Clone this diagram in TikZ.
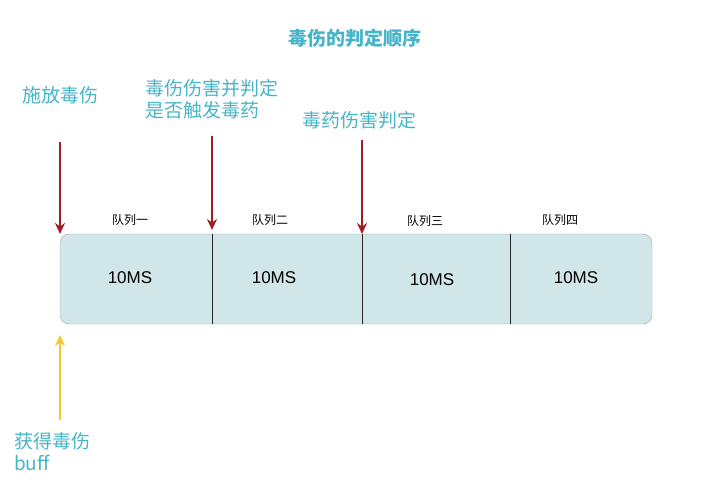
\documentclass[tikz,border=0pt]{standalone}
\usepackage{fontspec}
\setmainfont{Liberation Sans}
\newfontfamily\cjk{Noto Sans CJK SC}
\usetikzlibrary{arrows.meta}
\definecolor{teal1}{RGB}{70,180,200}
\definecolor{barfill}{RGB}{208,230,232}
\definecolor{redar}{RGB}{160,30,35}
\definecolor{yelar}{RGB}{245,200,50}
\begin{document}
\begin{tikzpicture}[x=1pt,y=-1pt,
  lbl/.style={text=teal1,font=\cjk\fontsize{19}{24}\selectfont,anchor=west,align=left,inner sep=0},
  ql/.style={font=\cjk\fontsize{12}{14}\selectfont,inner sep=0},
  ms/.style={font=\fontsize{17}{20}\selectfont,inner sep=0},
  rarr/.style={draw=redar,line width=2.4pt,-{Stealth[length=11pt,width=10pt]}},
  div/.style={draw=black!85,line width=0.9pt}]
\useasboundingbox (0,0) rectangle (717,500);
\node[font=\cjk\bfseries\fontsize{19}{23}\selectfont,text=teal1] (title) at (355,38) {毒伤的判定顺序};
\node[draw=gray!70,fill=barfill,rounded corners=9pt,minimum width=592,minimum height=90,inner sep=0] (bar) at (356,279) {};
\coordinate (d1t) at (212,234); \coordinate (d1b) at (212,324);
\coordinate (d2t) at (362,234); \coordinate (d2b) at (362,324);
\coordinate (d3t) at (510,234); \coordinate (d3b) at (510,324);
\draw[div] (d1t)--(d1b); \draw[div] (d2t)--(d2b); \draw[div] (d3t)--(d3b);
\node[ms] (m1) at (130,278) {10MS};
\node[ms] (m2) at (274,278) {10MS};
\node[ms] (m3) at (432,280) {10MS};
\node[ms] (m4) at (576,278) {10MS};
\node[ql] (q1) at (130,220) {队列一};
\node[ql] (q2) at (270,220) {队列二};
\node[ql] (q3) at (425,221) {队列三};
\node[ql] (q4) at (560,220) {队列四};
\node[lbl] (l1) at (22,95) {施放毒伤};
\node[lbl] (l2) at (145,99) {毒伤伤害并判定\\[-2pt]是否触发毒药};
\node[lbl] (l3) at (302,120) {毒药伤害判定};
\node[lbl] (l4) at (14,452) {获得毒伤\\[-2pt]buff};
\coordinate (a1s) at (60,142); \coordinate (a1e) at (60,234);
\coordinate (a2s) at (212,136); \coordinate (a2e) at (212,230);
\coordinate (a3s) at (362,140); \coordinate (a3e) at (362,234);
\draw[rarr] (a1s)--(a1e);
\draw[rarr] (a2s)--(a2e);
\draw[rarr] (a3s)--(a3e);
\coordinate (ys) at (60,420); \coordinate (ye) at (60,335);
\draw[draw=yelar,line width=2.4pt,-{Stealth[length=11pt,width=10pt]}] (ys)--(ye);
\end{tikzpicture}
\end{document}
